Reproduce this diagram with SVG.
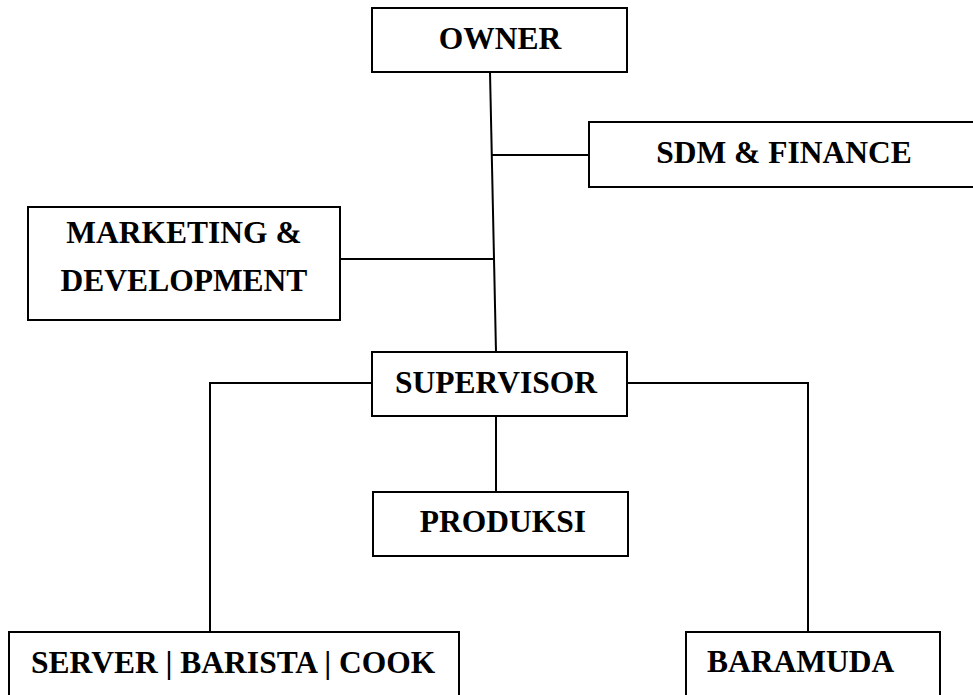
<svg xmlns="http://www.w3.org/2000/svg" width="973" height="695" viewBox="0 0 973 695">
<style>
.box{fill:#fff;stroke:#000;stroke-width:2}
.lbl{font-family:"Liberation Serif","Times New Roman",serif;font-weight:bold;font-size:31.5px;fill:#000}
.c{text-anchor:middle}
.ln{fill:none;stroke:#000;stroke-width:2}
</style>
<rect width="973" height="695" fill="#fff"/>
<g id="connectors">
<path class="ln" d="M490,72 L496,352"/>
<path class="ln" d="M491.5,155 L589,155"/>
<path class="ln" d="M340,259 L494.5,259"/>
<path class="ln" d="M372,383 L210,383 L210,632"/>
<path class="ln" d="M627,383 L808,383 L808,632"/>
<path class="ln" d="M496,416 L496,492"/>
</g>
<g id="owner">
<rect class="box" x="372" y="8" width="255" height="64"/>
<text class="lbl c" x="500" y="49">OWNER</text>
</g>
<g id="sdm-finance">
<rect class="box" x="589" y="122" width="400" height="65"/>
<text class="lbl c" x="784" y="163">SDM &amp; FINANCE</text>
</g>
<g id="marketing-development">
<rect class="box" x="28" y="207" width="312" height="113"/>
<text class="lbl c" x="184" y="243">MARKETING &amp;</text>
<text class="lbl c" x="184" y="291">DEVELOPMENT</text>
</g>
<g id="supervisor">
<rect class="box" x="372" y="352" width="255" height="64"/>
<text class="lbl c" x="496" y="393">SUPERVISOR</text>
</g>
<g id="produksi">
<rect class="box" x="373" y="492" width="255" height="64"/>
<text class="lbl c" x="503" y="532">PRODUKSI</text>
</g>
<g id="server-barista-cook">
<rect class="box" x="9" y="632" width="450" height="66"/>
<text class="lbl" x="31" y="673">SERVER | BARISTA | COOK</text>
</g>
<g id="baramuda">
<rect class="box" x="686" y="632" width="254" height="66"/>
<text class="lbl" x="707" y="672">BARAMUDA</text>
</g>
</svg>
